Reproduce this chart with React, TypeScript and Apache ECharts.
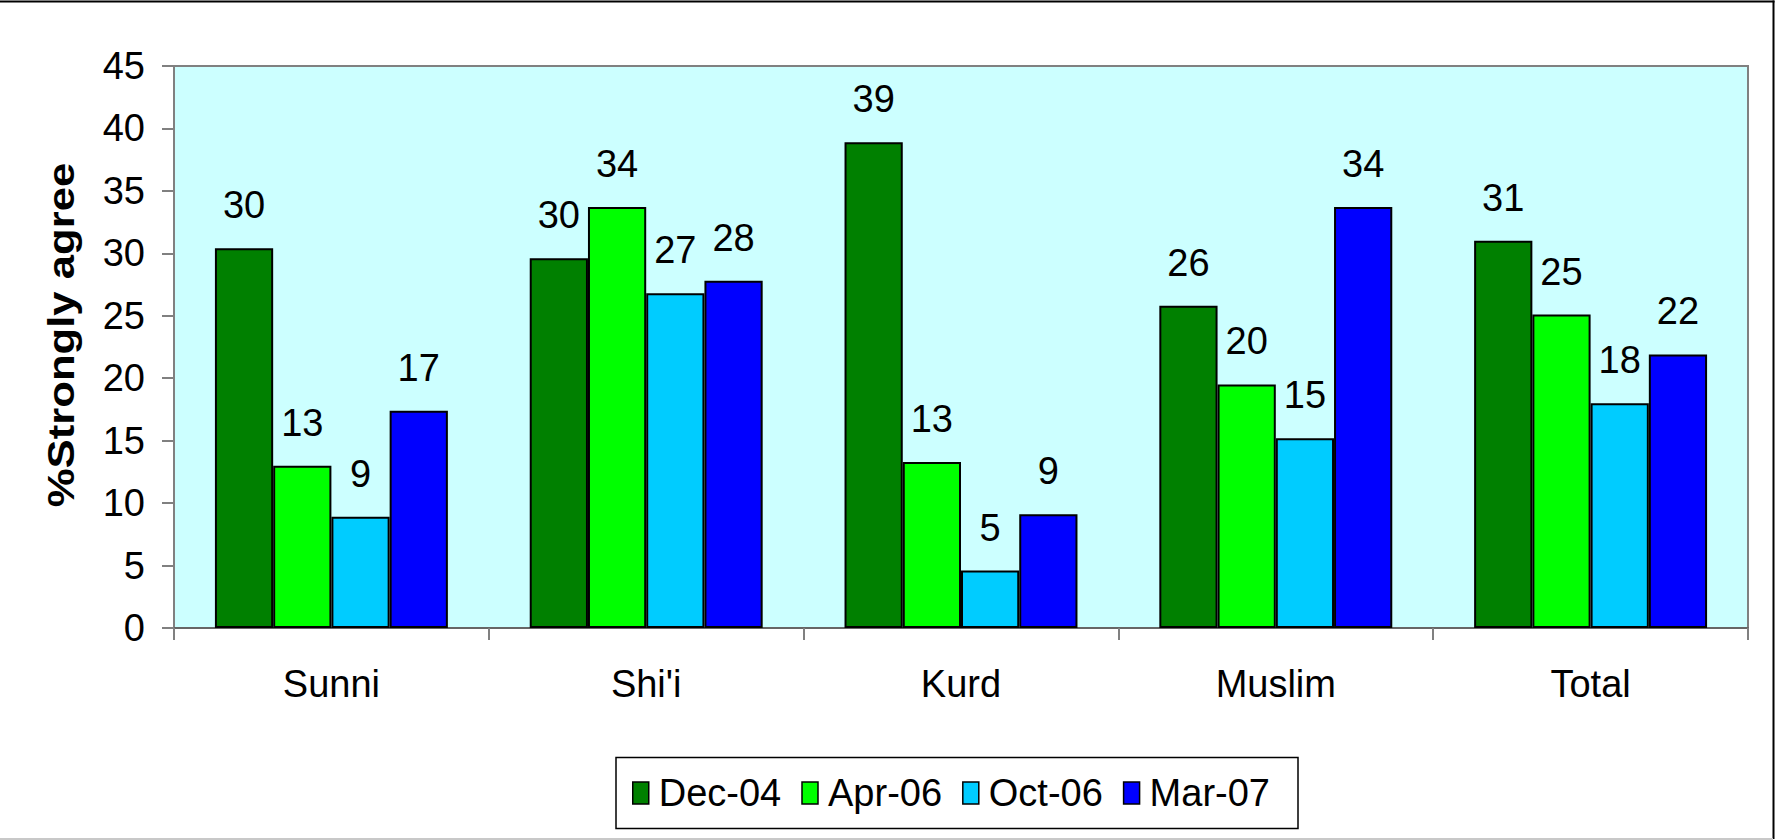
import React, { useEffect, useRef } from "react";
import * as echarts from "echarts";

const categories = ["Sunni", "Shi'i", "Kurd", "Muslim", "Total"];
const seriesNames = ["Dec-04", "Apr-06", "Oct-06", "Mar-07"];
const dec04 = [30.4, 29.6, 38.9, 25.8, 31.0];
const apr06 = [13.0, 33.7, 13.3, 19.5, 25.1];
const oct06 = [8.9, 26.8, 4.6, 15.2, 18.0];
const mar07 = [17.4, 27.8, 9.1, 33.7, 21.9];
const seriesColors = ["#008000", "#00FF00", "#00CCFF", "#0000FF"];
const yTicks = { min: 0, max: 45, interval: 5 };
const yTitle = "%Strongly agree";

const FONT = "'Liberation Sans', Arial, sans-serif";

export default function App() {
  const ref = useRef<HTMLDivElement>(null);
  useEffect(() => {
    document.body.style.margin = "0";
    const chart = echarts.init(ref.current!, undefined, { renderer: "svg" });
    const allData = [dec04, apr06, oct06, mar07];
    chart.setOption({
      animation: false,
      backgroundColor: "#FFFFFF",
      textStyle: { fontFamily: FONT, color: "#000" },
      grid: {
        left: 174,
        top: 66,
        right: 27,
        bottom: 212,
        show: true,
        backgroundColor: "#CCFFFF",
        borderColor: "#808080",
        borderWidth: 2,
        containLabel: false,
      },
      legend: {
        left: 632,
        top: 774,
        orient: "horizontal",
        padding: 0,
        itemGap: 20,
        itemWidth: 16,
        itemHeight: 22,
        icon: "rect",
        itemStyle: { borderColor: "#000", borderWidth: 1.5 },
        textStyle: {
          fontFamily: FONT,
          fontSize: 38,
          color: "#000",
          padding: [0, 0, 0, 5],
        },
        data: seriesNames,
      },
      xAxis: {
        type: "category",
        data: categories,
        axisLine: { show: true, lineStyle: { color: "#666666", width: 2 } },
        axisTick: { show: true, length: 12, lineStyle: { color: "#808080", width: 2 } },
        axisLabel: { fontSize: 38, color: "#000", margin: 37, fontFamily: FONT },
        splitLine: { show: false },
      },
      yAxis: {
        type: "value",
        min: yTicks.min,
        max: yTicks.max,
        interval: yTicks.interval,
        axisLine: { show: true, lineStyle: { color: "#808080", width: 2 } },
        axisTick: { show: true, length: 12, lineStyle: { color: "#808080", width: 2 } },
        axisLabel: { fontSize: 38, color: "#000", margin: 29, fontFamily: FONT },
        splitLine: { show: false },
      },
      graphic: [
        {
          type: "rect",
          shape: { x: 616, y: 757.5, width: 682, height: 71 },
          style: { fill: "#FFFFFF", stroke: "#000", lineWidth: 1.5 },
          z: -1,
        },
        {
          type: "text",
          x: 61,
          y: 335,
          rotation: Math.PI / 2,
          scaleX: 1.18,
          style: {
            text: yTitle,
            fontFamily: FONT,
            fontWeight: "bold",
            fontSize: 37,
            fill: "#000",
            textAlign: "center",
            textVerticalAlign: "middle",
          },
        },
        {
          type: "line",
          shape: { x1: 0, y1: 1.5, x2: 1774.5, y2: 1.5 },
          style: { stroke: "#000", lineWidth: 2 },
        },
        {
          type: "line",
          shape: { x1: 1773.5, y1: 0.5, x2: 1773.5, y2: 839 },
          style: { stroke: "#000", lineWidth: 2 },
        },
        {
          type: "line",
          shape: { x1: 0, y1: 839, x2: 1773, y2: 839 },
          style: { stroke: "#C8C8C8", lineWidth: 2 },
        },
      ],
      series: seriesNames.map((name, i) => ({
        name,
        type: "bar",
        data: allData[i],
        barGap: "0%",
        barCategoryGap: "26%",
        itemStyle: { color: seriesColors[i], borderColor: "#000", borderWidth: 2 },
        label: {
          show: true,
          position: "top",
          distance: 24,
          fontSize: 38,
          color: "#000",
          fontFamily: FONT,
          formatter: (p: any) => String(Math.round(p.value)),
        },
      })),
    });
    return () => chart.dispose();
  }, []);
  return (
    <div
      ref={ref}
      style={{ position: "absolute", left: 0, top: 0, width: 1775, height: 840, background: "#fff" }}
    />
  );
}
